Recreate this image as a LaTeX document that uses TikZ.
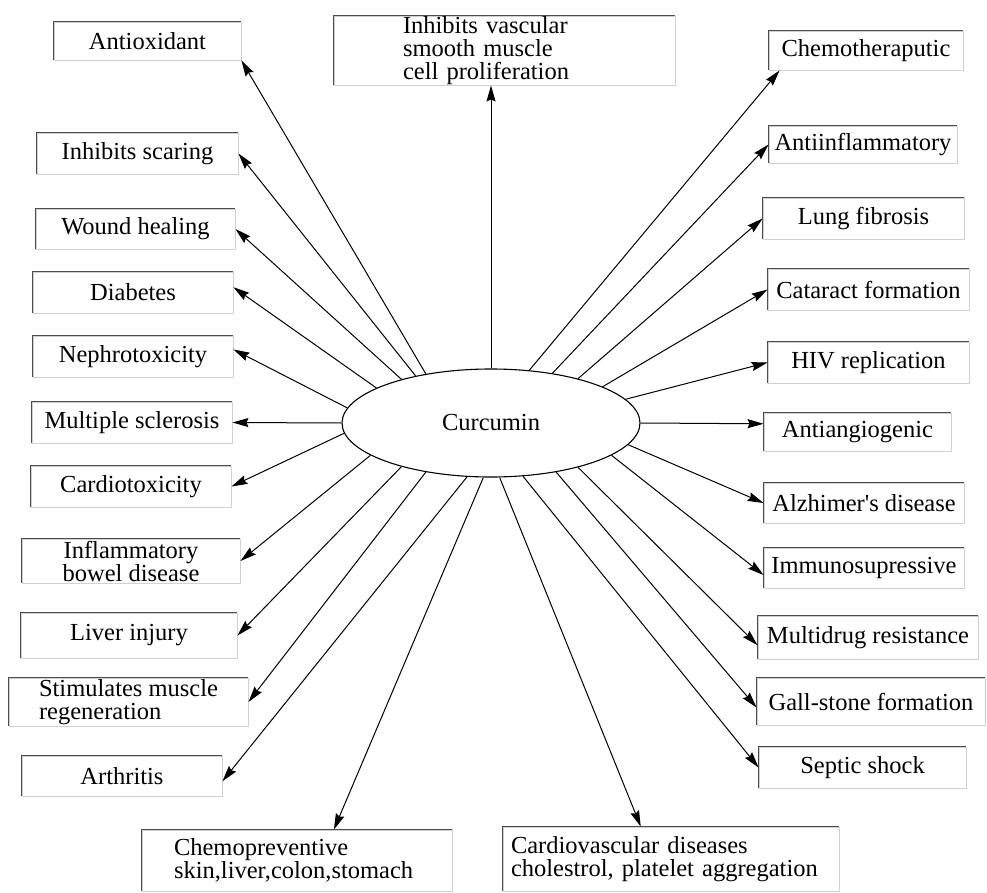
\documentclass[tikz,border=0pt]{standalone}
\usepackage{fontspec}
\setmainfont{Liberation Serif}[Ligatures=TeXOff]
\usetikzlibrary{shapes.geometric,arrows.meta}

\begin{document}
\begin{tikzpicture}[
    x=1pt, y=-1pt,
    box/.style={draw=black!18, line width=0.9pt, inner sep=0pt, align=center,
        font=\fontsize{24.5}{23}\selectfont,
        append after command={(\tikzlastnode.south west) edge[draw=black!70, line width=0.9pt, to path={|- (\tikztotarget)}] (\tikzlastnode.north east)}},
    lbox/.style 2 args={box, align=left, text width=#1, inner xsep=#2},
    hub/.style={draw, ellipse, line width=1.1pt, inner sep=0pt, font=\fontsize{24.5}{23}\selectfont},
    arr/.style={-{Stealth[length=16pt, width=9pt, inset=2pt]}, line width=1pt}
]
\useasboundingbox (0,0) rectangle (987,893);

\node[hub, minimum width=298pt, minimum height=108pt] (cur) at (491,423) {Curcumin};

% top
\node[lbox={203pt}{69pt}, minimum height=69pt] (vasc) at (504.5,50.5) {Inhibits vascular\\smooth muscle\\cell proliferation};

% left column
\node[box, minimum width=187pt, minimum height=38pt] (antiox) at (147.5,41) {Antioxidant};
\node[box, minimum width=201pt, minimum height=41pt] (scaring) at (137.5,153.5) {Inhibits scaring};
\node[box, minimum width=199pt, minimum height=40pt] (wound) at (135.5,229) {Wound healing};
\node[box, minimum width=200pt, minimum height=41pt] (diab) at (133,292.5) {Diabetes};
\node[box, minimum width=200pt, minimum height=41pt] (nephro) at (133,356.5) {Nephrotoxicity};
\node[box, minimum width=200pt, minimum height=41pt] (ms) at (132,422.5) {Multiple sclerosis};
\node[box, minimum width=200pt, minimum height=41pt] (cardio) at (131,486.5) {Cardiotoxicity};
\node[box, minimum width=218pt, minimum height=44pt] (ibd) at (131,561) {Inflammatory\\bowel disease};
\node[box, minimum width=216pt, minimum height=45pt] (liver) at (129,635.5) {Liver injury};
\node[box, align=left, minimum width=239pt, minimum height=48pt] (stim) at (128.5,702) {Stimulates muscle\\regeneration};
\node[box, minimum width=200pt, minimum height=40pt] (arth) at (122,776) {Arthritis};

% bottom
\node[lbox={246pt}{32pt}, minimum height=61pt] (chemoprev) at (297,860.5) {Chemopreventive\\skin,liver,colon,stomach};
\node[lbox={320pt}{8pt}, minimum height=64pt] (cardiov) at (671,859) {Cardiovascular diseases\\cholestrol, platelet aggregation};

% right column
\node[box, minimum width=194pt, minimum height=39pt] (chemo) at (866,50.5) {Chemotheraputic};
\node[box, minimum width=188pt, minimum height=37pt] (antiinf) at (863,144.5) {Antiinflammatory};
\node[box, minimum width=201pt, minimum height=41pt] (lung) at (863.5,218.5) {Lung fibrosis};
\node[box, minimum width=201pt, minimum height=41pt] (catar) at (868.5,289.5) {Cataract formation};
\node[box, minimum width=201pt, minimum height=41pt] (hiv) at (868.5,362.5) {HIV replication};
\node[box, minimum width=187pt, minimum height=38pt] (angio) at (857.5,432) {Antiangiogenic};
\node[box, minimum width=200pt, minimum height=40pt] (alzh) at (864,503) {Alzhimer's disease};
\node[box, minimum width=200pt, minimum height=40pt] (immuno) at (864,568) {Immunosupressive};
\node[box, minimum width=220pt, minimum height=43pt] (mdr) at (868,637.5) {Multidrug resistance};
\node[box, minimum width=228pt, minimum height=47pt] (gall) at (871,701.5) {Gall-stone formation};
\node[box, minimum width=207pt, minimum height=41pt] (septic) at (862.5,767.5) {Septic shock};

\draw[arr] (cur.north) -- (cur.north |- vasc.south);
\draw[arr] (cur.143) -- (antiox.south east);
\draw[arr] (cur.148) -- (scaring.east);
\draw[arr] (cur.154) -- (wound.east);
\draw[arr] (cur.163) -- (diab.3);
\draw[arr] (cur.174) -- (nephro.4);
\draw[arr] (cur.180) -- (ms.east);
\draw[arr] (cur.184) -- (cardio.east);
\draw[arr] (cur.195) -- (ibd.east);
\draw[arr] (cur.206) -- (liver.east);
\draw[arr] (cur.217) -- (stim.east);
\draw[arr] (cur.246) -- (arth.357);
\draw[arr] (cur.262) -- (chemoprev.40);
\draw[arr] (cur.279) -- (cardiov.133);
\draw[arr] (cur.301) -- (septic.west);
\draw[arr] (cur.323) -- (gall.183);
\draw[arr] (cur.333) -- (mdr.184);
\draw[arr] (cur.345) -- (immuno.184);
\draw[arr] (cur.351) -- (alzh.west);
\draw[arr] (cur.0) -- (angio.175);
\draw[arr] (cur.10) -- (hiv.west);
\draw[arr] (cur.18) -- (catar.west);
\draw[arr] (cur.27) -- (lung.west);
\draw[arr] (cur.39) -- (antiinf.west);
\draw[arr] (cur.54) -- (chemo.193);
\end{tikzpicture}
\end{document}
